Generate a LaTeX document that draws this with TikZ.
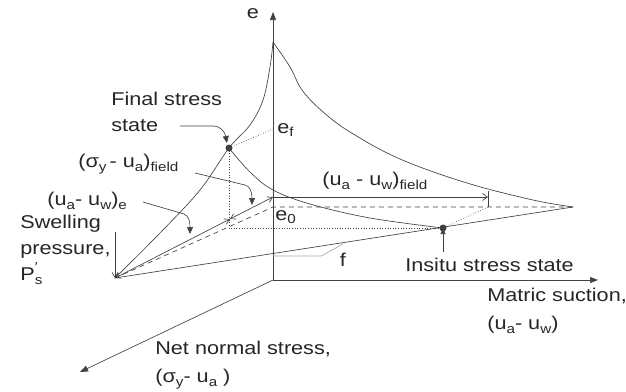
\documentclass[tikz,border=0pt]{standalone}
\usepackage{fontspec}
\setmainfont{Liberation Sans}[FakeStretch=1.17]
\usetikzlibrary{arrows.meta}
\newcommand{\subtxt}[1]{\raisebox{-0.35ex}{\fontsize{13}{13}\selectfont #1}}

\begin{document}
\begin{tikzpicture}[x=1pt,y=-1pt, line width=0.65pt, black!75,
	lbl/.style={font=\fontsize{18.5}{26}\selectfont, text=black!85, inner sep=0pt, align=left},
	axis/.style={-{Triangle[length=8pt,width=6pt]}},
	dim/.style={{Straight Barb[length=5pt,width=6pt]}-{Straight Barb[length=5pt,width=6pt]}},
	lead/.style={-{Triangle[length=7pt,width=6pt]}}]
	\useasboundingbox (0,0) rectangle (626,391);
	% axes
	\coordinate (O) at (273,280);
	\coordinate (etop) at (273,12);
	\coordinate (suc) at (598,280);
	\coordinate (net) at (80,372);
	\draw[axis] (O) -- (etop);
	\draw[axis] (O) -- (suc);
	\draw[axis] (O) -- (net);
	% points of the surface
	\coordinate (peak) at (273,42);
	\coordinate (Ps) at (115,278);
	\coordinate (R) at (573,207);
	\coordinate (e0) at (273,197);
	\coordinate (ef) at (273,129);
	\coordinate (Fs) at (229,148);
	\coordinate (Is) at (443,228);
	\coordinate (X) at (230,219);
	\coordinate (d0) at (273,207);
	\coordinate (fe) at (488,197);
	\coordinate (fb) at (488,207);
	\coordinate (ft) at (488,191);
	\coordinate (corner) at (229,228);
	% surface
	\draw plot[smooth, tension=0.6] coordinates {(273,42) (270,67) (263,100) (250,125) (229,148) (200,190) (160,233) (115,278)};
	\draw plot[smooth, tension=0.6] coordinates {(273,42) (290,67) (302,90) (322,111) (350,132) (400,159) (467,183) (533,200) (573,207)};
	\draw plot[smooth, tension=0.6] coordinates {(229,148) (250,172) (273,190) (310,204) (370,218) (443,228)};
	\draw (Ps) -- (R);
	\draw[dashed, dash pattern=on 5pt off 4pt] (Ps) -- (d0) -- (R);
	\draw[dim] (Ps) -- (X);
	\draw[dim] (X) -- (e0);
	\draw[-{Straight Barb[length=5pt,width=7pt]}] (e0) -- (fe);
	\draw (ft) -- (fb);
	\draw[dotted] (fb) -- (Is);
	\draw[dotted] (Fs) -- (ef);
	\draw[dotted] (Fs) -- (corner) -- (Is);
	\draw[black!35] (273,256) coordinate (fl) -- (321,256) coordinate (fm) -- (343,244) coordinate (fr);
	\fill (Fs) circle (3.5pt);
	\fill (Is) circle (3.5pt);
	% labels
	\node[lbl] (elab) at (253,14) {e};
	\node[lbl, anchor=west] (eflab) at (277,130) {e\subtxt{f}};
	\node[lbl, anchor=west] (e0lab) at (275,217) {e\subtxt{0}};
	\node[lbl, anchor=north west] (final) at (111,92) {Final stress\\state};
	\node[lbl, anchor=west] (sigf) at (78,164) {(σ\subtxt{y}\,- u\subtxt{a})\subtxt{field}};
	\node[lbl, anchor=west] (suce) at (47,201) {(u\subtxt{a}- u\subtxt{w})\subtxt{e}};
	\node[lbl, anchor=north west] (swell) at (20,215) {Swelling\\pressure,\\P\rlap{\raisebox{0.9ex}{\fontsize{13}{13}\selectfont ′}}\subtxt{s}};
	\node[lbl, anchor=west] (sucf) at (322,181) {(u\subtxt{a} - u\subtxt{w})\subtxt{field}};
	\node[lbl] (flab) at (343,260) {f};
	\node[lbl, anchor=west] (insitu) at (405,265) {Insitu stress state};
	\node[lbl, anchor=north west, font=\fontsize{18.5}{28}\selectfont] (matric) at (487,288) {Matric suction,\\(u\subtxt{a}- u\subtxt{w})};
	\node[lbl, anchor=north west, font=\fontsize{18.5}{28}\selectfont] (netlab) at (155,341) {Net normal stress,\\(σ\subtxt{y}- u\subtxt{a} )};
	% leaders
	\coordinate (swtop) at (115,232);
	\draw[-{Straight Barb[length=5pt,width=6pt]}] (swtop) -- (Ps);
	\draw[lead] (180,126) coordinate (l1) -- (214,126) .. controls (220,126) and (225,132) .. (227,143);
	\draw[lead] (195,173) coordinate (l2) -- (245,185) .. controls (250,186) and (252,192) .. (252,205);
	\draw[lead] (143,202) coordinate (l3) -- (184,214) .. controls (189,216) and (190,222) .. (190,234);
	\coordinate (inb) at (443,252);
	\draw[-{Triangle[length=6pt,width=5pt]}] (inb) -- (Is);
\end{tikzpicture}
\end{document}
